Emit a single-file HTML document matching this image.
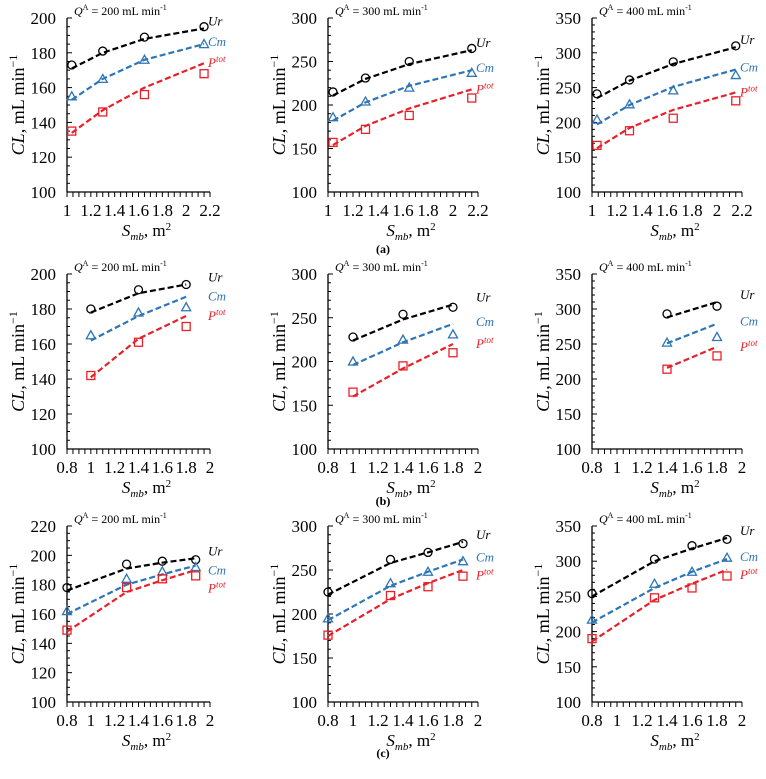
<!DOCTYPE html>
<html><head><meta charset="utf-8"><style>
html,body{margin:0;padding:0;background:#fff;}
svg text{font-family:"Liberation Serif",serif;}
</style></head><body>
<svg id="fig" width="766" height="774" viewBox="0 0 766 774" xmlns="http://www.w3.org/2000/svg"></svg>
<script>
// ---- data ----
const xA = [1.04, 1.3, 1.65, 2.15];
const xB = [1.0, 1.4, 1.8];
const xB3 = [1.4, 1.8];
const xC = [0.8, 1.3, 1.6, 1.88];
const flowLabels = ["200", "300", "400"];
// row a
const a1Ur = [173,181,189,195], a1UrFit = [171,180,188,194];
const a1Cm = [155,165,176,185], a1CmFit = [153,165,176,185];
const a1P = [135,146,156,168], a1PFit = [134,147,160,174];
const a2Ur = [215,231,250,265], a2UrFit = [211,230,247,263];
const a2Cm = [186,204,220,237], a2CmFit = [182,203,222,240];
const a2P = [157,172,188,208], a2PFit = [154,176,196,218];
const a3Ur = [241,261,287,310], a3UrFit = [235,260,284,308];
const a3Cm = [204,226,246,268], a3CmFit = [197,225,251,276];
const a3P = [167,188,206,231], a3PFit = [163,192,218,243];
// row b
const b1Ur = [180,191,194], b1UrFit = [178,189,194];
const b1Cm = [165,178,181], b1CmFit = [162,176,187];
const b1P = [142,161,170], b1PFit = [141,163,176];
const b2Ur = [228,254,262], b2UrFit = [224,248,265];
const b2Cm = [200,225,231], b2CmFit = [196,222,243];
const b2P = [165,195,210], b2PFit = [160,192,220];
const b3Ur = [293,304], b3UrFit = [288,310];
const b3Cm = [252,260], b3CmFit = [251,279];
const b3P = [214,233], b3PFit = [216,246];
// row c
const c1Ur = [178,194,196,197], c1UrFit = [176,191,195,198];
const c1Cm = [162,184,189,192], c1CmFit = [160,180,187,193];
const c1P = [149,178,184,186], c1PFit = [148,175,183,190];
const c2Ur = [225,262,270,280], c2UrFit = [222,258,270,282];
const c2Cm = [195,235,248,260], c2CmFit = [193,232,248,262];
const c2P = [176,221,231,243], c2PFit = [175,217,235,250];
const c3Ur = [254,303,322,331], c3UrFit = [250,300,318,333];
const c3Cm = [217,268,285,305], c3CmFit = [213,262,285,303];
const c3P = [190,248,262,279], c3PFit = [186,245,268,288];
const xTicksA = ["1","1.2","1.4","1.6","1.8","2","2.2"];
const xTicksBC = ["0.8","1","1.2","1.4","1.6","1.8","2"];

const svg = document.getElementById('fig');
const NS = "http://www.w3.org/2000/svg";
function mk(tag, attrs, parent){const e=document.createElementNS(NS,tag);for(const k in attrs)e.setAttribute(k,attrs[k]);(parent||svg).appendChild(e);return e;}

const colX = [67, 328, 592];
const colW = [143, 150, 150];
const rows = [{top:18,bot:192},{top:274,bot:449},{top:526,bot:702}];
const BLACK="#000", BLUE="#2e75b6", RED="#e8202a";

function panel(name, col, row, xmin, xmax, xt, ymin, ymax, ystep, yminor, flow, series){
  const g = mk('g', {});
  
  
  const X0 = colX[col], W = colW[col], T = rows[row].top, B = rows[row].bot;
  const sx = v => X0 + (v - xmin) / (xmax - xmin) * W;
  const sy = v => B - (v - ymin) / (ymax - ymin) * (B - T);
  const ya = mk('line',{x1:X0,y1:T,x2:X0,y2:B,stroke:'#000','stroke-width':1.3},g);
   
  const xa = mk('line',{x1:X0,y1:B,x2:X0+W,y2:B,stroke:'#000','stroke-width':1.3},g);
   
  for(let v=ymin; v<=ymax+1e-6; v+=yminor){
    const major = Math.abs((v-ymin)/ystep - Math.round((v-ymin)/ystep))<1e-6;
    mk('line',{x1:X0,y1:sy(v),x2:X0+(major?5:3),y2:sy(v),stroke:'#000','stroke-width':1},g);
    if(major){
      const t=mk('text',{x:X0-11,y:sy(v)+6,'text-anchor':'end','font-size':17},g);
      t.textContent=String(Math.round(v));
       
    }
  }
  const nMinor = Math.round((xmax-xmin)/0.05);
  for(let i=0;i<=nMinor;i++){
    const v = xmin+i*0.05;
    mk('line',{x1:sx(v),y1:B,x2:sx(v),y2:B+5,stroke:'#000','stroke-width':1},g);
  }
  xt.forEach((lab,i)=>{
    const v = xmin + i*(xmax-xmin)/(xt.length-1);
    const t=mk('text',{x:sx(v),y:B+24,'text-anchor':'middle','font-size':17},g);
    t.textContent=lab;
     
  });
  const yt=mk('text',{transform:`translate(${X0-43},${(T+B)/2}) rotate(-90)`,'text-anchor':'middle','font-size':18},g);
  yt.innerHTML='<tspan font-style="italic">CL,</tspan> mL min<tspan dy="-7" font-size="12">−1</tspan>';
   
  const xtt=mk('text',{x:X0+W/2+8,y:B+44,'text-anchor':'middle','font-size':17},g);
  xtt.innerHTML='<tspan font-style="italic">S</tspan><tspan font-style="italic" font-size="11" dy="4">mb</tspan><tspan dy="-4">, m</tspan><tspan dy="-6" font-size="11">2</tspan>';
   
  const ft=mk('text',{x:X0+7,y:T-3,'font-size':12},g);
  ft.innerHTML='<tspan font-style="italic">Q</tspan><tspan font-size="8" dy="-5">A</tspan><tspan dy="5"> = '+flow+' mL min</tspan><tspan font-size="8" dy="-5">-1</tspan>';
   
  let prevY = -1e9;
  series.forEach(s=>{
    const pts = s.x.map((xv,i)=>sx(xv)+','+sy(s.fit[i])).join(' ');
    const pl=mk('polyline',{points:pts,fill:'none',stroke:s.c,'stroke-width':2.2,'stroke-dasharray':'6,3'},g);
     
    s.x.forEach((xv,i)=>{
      const cx=sx(xv), cy=sy(s.y[i]); let m;
      if(s.n==='ur') m=mk('circle',{cx,cy,r:4,fill:'none',stroke:s.c,'stroke-width':1.3},g);
      else if(s.n==='cm') m=mk('polygon',{points:`${cx},${cy-4.5} ${cx-4.5},${cy+3.5} ${cx+4.5},${cy+3.5}`,fill:'none',stroke:s.c,'stroke-width':1.3},g);
      else m=mk('rect',{x:cx-4,y:cy-4,width:8,height:8,fill:'none',stroke:s.c,'stroke-width':1.3},g);
       
    });
    let ly = sy(s.fit[s.fit.length-1]) + (s.n==='ur'?-3:s.n==='cm'?2:4);
    ly = Math.max(ly, prevY + (s.n==='p'?18:19));
    prevY = ly;
    const lx = X0+W-2;
    const lt=mk('text',{x:lx,y:ly,'font-size':13,'font-style':'italic',fill:s.c},g);
    if(s.n==='p') lt.innerHTML='P<tspan font-size="9" dy="-5">tot</tspan>';
    else lt.textContent = s.n==='ur'?'Ur':'Cm';
     
  });
}
function S(x,ur,urf,cm,cmf,p,pf){return [{n:'ur',c:BLACK,x,y:ur,fit:urf},{n:'cm',c:BLUE,x,y:cm,fit:cmf},{n:'p',c:RED,x,y:p,fit:pf}];}

panel('panel-a1',0,0,1,2.2,xTicksA,100,200,20,5,flowLabels[0],S(xA,a1Ur,a1UrFit,a1Cm,a1CmFit,a1P,a1PFit));
panel('panel-a2',1,0,1,2.2,xTicksA,100,300,50,10,flowLabels[1],S(xA,a2Ur,a2UrFit,a2Cm,a2CmFit,a2P,a2PFit));
panel('panel-a3',2,0,1,2.2,xTicksA,100,350,50,10,flowLabels[2],S(xA,a3Ur,a3UrFit,a3Cm,a3CmFit,a3P,a3PFit));
panel('panel-b1',0,1,0.8,2,xTicksBC,100,200,20,5,flowLabels[0],S(xB,b1Ur,b1UrFit,b1Cm,b1CmFit,b1P,b1PFit));
panel('panel-b2',1,1,0.8,2,xTicksBC,100,300,50,10,flowLabels[1],S(xB,b2Ur,b2UrFit,b2Cm,b2CmFit,b2P,b2PFit));
panel('panel-b3',2,1,0.8,2,xTicksBC,100,350,50,10,flowLabels[2],S(xB3,b3Ur,b3UrFit,b3Cm,b3CmFit,b3P,b3PFit));
panel('panel-c1',0,2,0.8,2,xTicksBC,100,220,20,5,flowLabels[0],S(xC,c1Ur,c1UrFit,c1Cm,c1CmFit,c1P,c1PFit));
panel('panel-c2',1,2,0.8,2,xTicksBC,100,300,50,10,flowLabels[1],S(xC,c2Ur,c2UrFit,c2Cm,c2CmFit,c2P,c2PFit));
panel('panel-c3',2,2,0.8,2,xTicksBC,100,350,50,10,flowLabels[2],S(xC,c3Ur,c3UrFit,c3Cm,c3CmFit,c3P,c3PFit));

[['(a)',253],['(b)',505],['(c)',757]].forEach(([t,y])=>{
  const e=mk('text',{x:383,y:y,'text-anchor':'middle','font-size':12,'font-weight':'bold'});
  e.textContent=t;
   
});
</script>
</body></html>
